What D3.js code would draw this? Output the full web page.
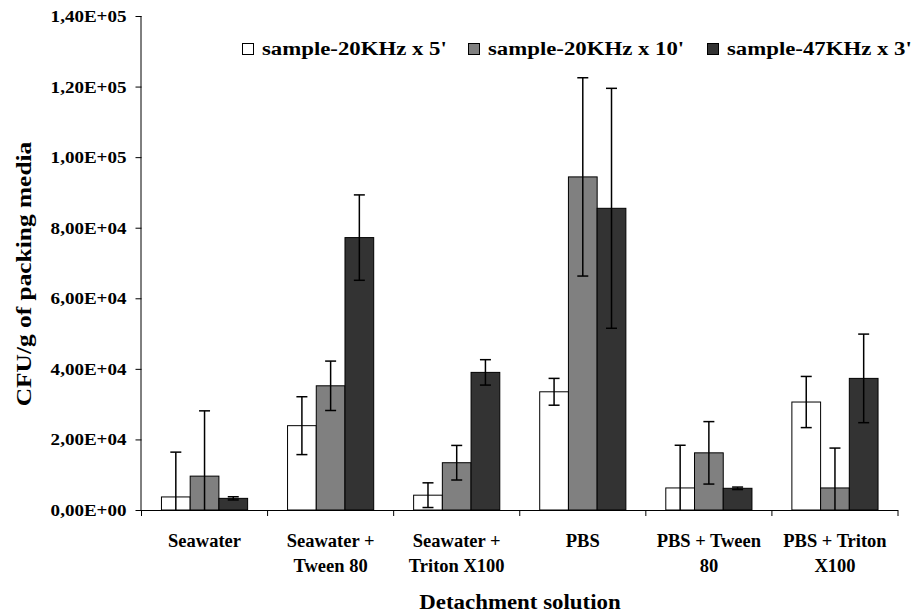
<!DOCTYPE html>
<html>
<head>
<meta charset="utf-8">
<script src="https://cdn.jsdelivr.net/npm/d3@7"></script>
<style>
  html, body { margin: 0; padding: 0; background: #fff; }
  svg { display: block; }
  text { font-family: "Liberation Serif", "Times New Roman", serif; font-weight: bold; fill: #000; }
</style>
</head>
<body>
<svg id="chart" width="916" height="615"></svg>
<script>
// ---------------- DATA ----------------
const categories = [
  ["Seawater"],
  ["Seawater +", "Tween 80"],
  ["Seawater +", "Triton X100"],
  ["PBS"],
  ["PBS + Tween", "80"],
  ["PBS + Triton", "X100"]
];
const seriesNames = ["sample-20KHz x 5'", "sample-20KHz x 10'", "sample-47KHz x 3'"];
const seriesColors = ["#ffffff", "#808080", "#333333"];

const s20k5  = [3700, 23900, 4200, 33500, 6250, 30600];
const s20k10 = [9600, 35200, 13400, 94400, 16200, 6250];
const s47k3  = [3300, 77200, 39000, 85500, 6150, 37300];

const e20k5  = [12700, 8200, 3500, 3800, 12100, 7250];
const e20k10 = [18500, 7000, 4900, 28100, 8850, 11300];
const e47k3  = [450, 12100, 3600, 34000, 350, 12550];

const yTicks = [0, 20000, 40000, 60000, 80000, 100000, 120000, 140000];
const yTickLabels = ["0,00E+00", "2,00E+04", "4,00E+04", "6,00E+04", "8,00E+04", "1,00E+05", "1,20E+05", "1,40E+05"];

const xTitle = "Detachment solution";
const yTitle = "CFU/g of packing media";

// ---------------- LAYOUT ----------------
const svg = d3.select("#chart");
const plotL = 141.5, plotR = 898, plotT = 16, plotB = 510;
const catKeys = categories.map(c => c.join(" "));
const values = [s20k5, s20k10, s47k3];
const errors = [e20k5, e20k10, e47k3];

const x0 = d3.scaleBand().domain(catKeys).range([plotL, plotR]).paddingInner(0).paddingOuter(0);
const x1 = d3.scaleBand().domain(d3.range(seriesNames.length)).range([0, x0.bandwidth()])
  .paddingInner(0).paddingOuter(0.695);
const y = d3.scaleLinear().domain([0, 140000]).range([plotB, plotT]);

function stretchText(g, x, yy, str, size, anchor, sx, rot) {
  return g.append("text")
    .attr("transform", `translate(${x},${yy})` + (rot ? ` rotate(${rot})` : "") + ` scale(${sx},1)`)
    .attr("text-anchor", anchor)
    .style("font-size", size + "px")
    .text(str);
}

// Y axis
const yAxis = d3.axisLeft(y).tickValues(yTicks)
  .tickFormat((d, i) => yTickLabels[i]).tickSize(6).tickPadding(0);
const gy = svg.append("g").attr("transform", `translate(${plotL},0)`).call(yAxis);
gy.select(".domain").attr("stroke", "#000").attr("d", `M-0.5,${plotT}V${plotB}`);
gy.selectAll(".tick line").attr("stroke", "#000");
gy.selectAll(".tick text")
  .attr("x", null).attr("dy", "0.34em")
  .attr("transform", "translate(-15,0) scale(1.19,1)")
  .attr("text-anchor", "end")
  .style("font-family", '"Liberation Serif", serif').style("font-weight", "bold")
  .style("font-size", "16px").attr("fill", "#000");

// Bars
const groups = svg.append("g").selectAll("g").data(catKeys).join("g")
  .attr("transform", d => `translate(${x0(d)},0)`);

groups.each(function(cat, ci) {
  const g = d3.select(this);
  values.forEach((arr, si) => {
    const v = arr[ci];
    g.append("rect")
      .attr("x", x1(si)).attr("width", x1.bandwidth())
      .attr("y", y(v)).attr("height", y(0) - y(v))
      .attr("fill", seriesColors[si]).attr("stroke", "#000").attr("stroke-width", 1);
  });
});

// Error bars
groups.each(function(cat, ci) {
  const g = d3.select(this);
  values.forEach((arr, si) => {
    const v = arr[ci], e = errors[si][ci];
    const cx = x1(si) + x1.bandwidth() / 2;
    const hi = v + e, lo = Math.max(0, v - e);
    g.append("line").attr("x1", cx).attr("x2", cx).attr("y1", y(hi)).attr("y2", y(lo))
      .attr("stroke", "#000").attr("stroke-width", 1.5);
    g.append("line").attr("x1", cx - 5.5).attr("x2", cx + 5.5).attr("y1", y(hi)).attr("y2", y(hi))
      .attr("stroke", "#000").attr("stroke-width", 1.5);
    if (v - e > 0) {
      g.append("line").attr("x1", cx - 5.5).attr("x2", cx + 5.5).attr("y1", y(lo)).attr("y2", y(lo))
        .attr("stroke", "#000").attr("stroke-width", 1.5);
    }
  });
});

// X axis
const gx = svg.append("g");
gx.append("line").attr("x1", plotL - 0.5).attr("x2", plotR).attr("y1", plotB + 0.5).attr("y2", plotB + 0.5)
  .attr("stroke", "#000");
const boundaries = catKeys.map(k => x0(k)).concat([x0(catKeys[catKeys.length - 1]) + x0.bandwidth()]);
gx.selectAll("line.tk").data(boundaries).join("line").attr("class", "tk")
  .attr("x1", d => d).attr("x2", d => d).attr("y1", plotB).attr("y2", plotB + 6)
  .attr("stroke", "#000");

// Category labels
categories.forEach((lines, ci) => {
  const cx = x0(catKeys[ci]) + x0.bandwidth() / 2;
  lines.forEach((ln, li) => {
    stretchText(svg, cx, 547 + li * 25, ln, 18.5, "middle", 1.0);
  });
});

// Axis titles
stretchText(svg, 520, 609, xTitle, 21, "middle", 1.09);
stretchText(svg, 31, 274, yTitle, 21, "middle", 1.21, -90);

// Legend
const legX = [242, 468, 707];
seriesNames.forEach((name, i) => {
  svg.append("rect").attr("x", legX[i] + 0.5).attr("y", 43.5).attr("width", 11).attr("height", 11)
    .attr("fill", seriesColors[i]).attr("stroke", "#000").attr("stroke-width", 1);
  stretchText(svg, legX[i] + 20, 55, name, 19, "start", 1.2);
});
</script>
</body>
</html>
